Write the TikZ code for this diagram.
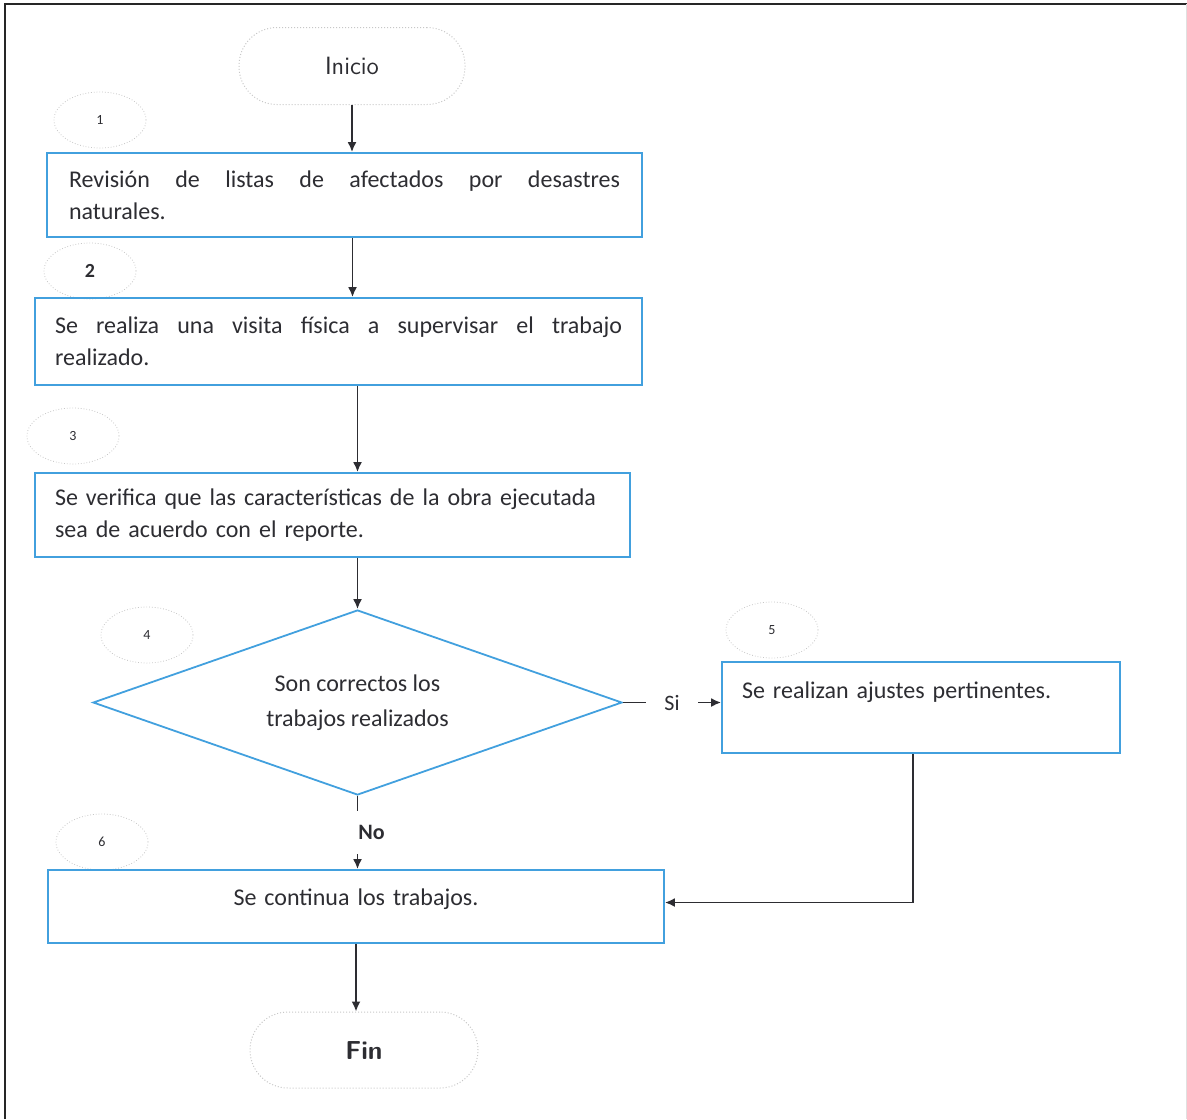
\documentclass[tikz,border=0pt]{standalone}
\usepackage{fontspec}
\setmainfont{Carlito}
\usepackage{xcolor}
\usepackage{tikz}
\usetikzlibrary{positioning}
\usetikzlibrary{calc}
\usetikzlibrary{shapes}
\usetikzlibrary{arrows.meta}
\definecolor{boxblue}{RGB}{66,160,222}
\definecolor{ink}{RGB}{45,45,50}

\begin{document}
\begin{tikzpicture}
[
x=0.5pt, y=-0.5pt,
font=\fontsize{12}{16}\selectfont,
text=ink,
b/.style={rectangle, draw=boxblue, line width=0.9pt, inner xsep=10pt, inner ysep=4pt},
d/.style={diamond, draw=boxblue, line width=0.9pt, aspect=2.86, minimum width=264.5pt, minimum height=92.5pt, align=center, inner sep=1pt, font=\fontsize{12}{17.5}\selectfont},
e/.style={ellipse, draw=black!22, densely dotted, line width=0.4pt, minimum width=46pt, minimum height=28pt, inner sep=0pt, font=\fontsize{7}{8}\selectfont},
t/.style={rectangle, rounded corners=19pt, draw=black!22, densely dotted, line width=0.5pt, minimum width=113pt, minimum height=38.5pt, font=\sffamily\fontsize{12.5}{14}\selectfont},
arr/.style={-{Latex[length=5pt,width=4.5pt]}, draw=ink, line width=0.9pt}
]
\useasboundingbox (0,0) rectangle (1187,1119);
% marco
\draw[line width=1.2pt, black!85] (5,1119) -- (5,4) -- (1187,4);
\draw[black!12] (1186,4) -- (1186,1119);

\node[t] (ini) at (352,66) {Inicio};

\node[e] (e1) at (100,120) {1};
\node[b, text width=275.5pt, inner xsep=11pt, minimum height=42pt, align=justify] (b1) at (344.5,195)
{Revisión de listas de afectados por desastres\linebreak naturales.};

\node[e, font=\fontsize{10}{12}\selectfont\bfseries] (e2) at (90,271) {2};
\node[b, text width=283.5pt, minimum height=43.5pt, align=justify] (b2) at (338.5,341.5)
{Se realiza una visita física a supervisar el trabajo\linebreak realizado.};

\node[e] (e3) at (73,436) {3};
\node[b, text width=277.5pt, minimum height=42pt, align=left] (b3) at (332.5,515)
{Se verifica que las características de la obra ejecutada\\sea de acuerdo con el reporte.};

\node[e] (e4) at (147,635) {4};
\node[d] (dia) at (357.5,702.5) {Son correctos los\\trabajos realizados};

\node[e] (e5) at (772,630) {5};
\node[b, text width=179pt, align=left, text height=14pt, text depth=23.5pt] (b5) at (921,707.5)
{Se realizan ajustes pertinentes.};

\node[e] (e6) at (102,842) {6};
\node[b, text width=288pt, align=center, text height=13.5pt, text depth=15pt] (b6) at (356,906.5)
{Se continua los trabajos.};

\node[t, minimum width=114pt, minimum height=38pt, font=\sffamily\bfseries\fontsize{13}{15}\selectfont] (fin) at (364,1050) {Fin};

\draw[arr] (ini.south) -- (ini.south |- b1.north);
\draw[arr] ([xshift=4pt]b1.south) -- ([xshift=4pt]b1.south |- b2.north);
\draw[arr] (dia.north |- b2.south) -- (dia.north |- b3.north);
\draw[arr] (dia.north |- b3.south) -- (dia.north);
\draw[arr] (dia.east) -- node[fill=white, inner xsep=9pt, font=\fontsize{11}{12}\selectfont] {Si} (dia.east -| b5.west);
\draw[arr] (dia.south) -- node[fill=white, inner ysep=7pt, xshift=7pt, font=\fontsize{11}{12}\selectfont\bfseries] {No} (dia.south |- b6.north);
\draw[arr] ([xshift=-4pt]b5.south) |- ([yshift=2pt]b6.east);
\draw[arr] (b6.south) -- (b6.south |- fin.north);
\end{tikzpicture}
\end{document}
